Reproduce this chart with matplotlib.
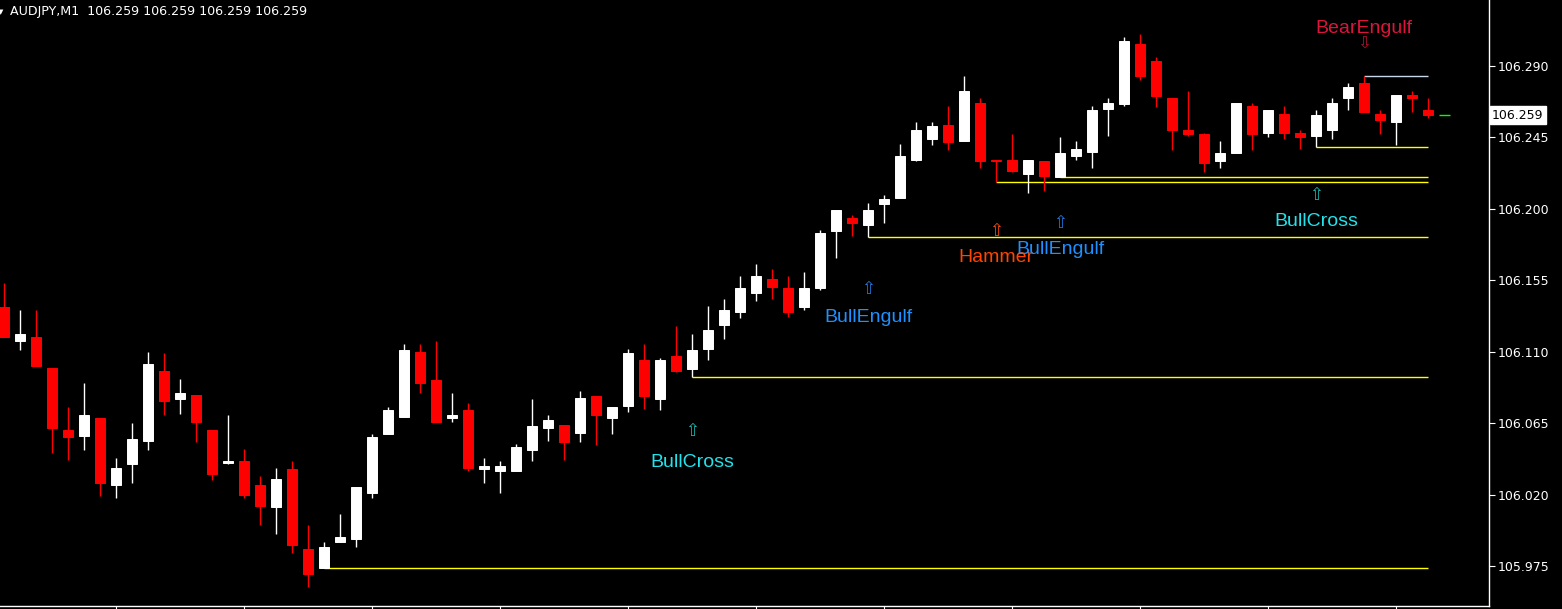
import matplotlib
matplotlib.use('Agg')
import matplotlib.pyplot as plt
import matplotlib.transforms as mtransforms

# ---------------- data (AUDJPY, M1) ----------------
opens = [106.138, 106.117, 106.119, 106.100, 106.061, 106.057, 106.068, 106.026, 106.039, 106.054,
         106.098, 106.080, 106.083, 106.061, 106.040, 106.041, 106.026, 106.012, 106.036, 105.986,
         105.974, 105.990, 105.992, 106.021, 106.058, 106.069, 106.110, 106.092, 106.068, 106.073,
         106.036, 106.035, 106.035, 106.048, 106.062, 106.064, 106.059, 106.082, 106.068, 106.076,
         106.105, 106.080, 106.107, 106.099, 106.112, 106.127, 106.135, 106.147, 106.156, 106.150,
         106.138, 106.150, 106.186, 106.194, 106.190, 106.203, 106.207, 106.231, 106.244, 106.253,
         106.243, 106.267, 106.231, 106.231, 106.222, 106.230, 106.220, 106.233, 106.236, 106.263,
         106.266, 106.304, 106.293, 106.270, 106.250, 106.247, 106.230, 106.235, 106.265, 106.248,
         106.260, 106.248, 106.246, 106.250, 106.270, 106.279, 106.260, 106.255, 106.272, 106.262]
highs = [106.153, 106.136, 106.136, 106.100, 106.075, 106.090, 106.068, 106.043, 106.065, 106.110,
         106.109, 106.093, 106.083, 106.061, 106.070, 106.049, 106.032, 106.037, 106.041, 106.001,
         105.990, 106.008, 106.025, 106.058, 106.075, 106.115, 106.115, 106.117, 106.084, 106.078,
         106.043, 106.041, 106.052, 106.080, 106.070, 106.064, 106.085, 106.082, 106.075, 106.112,
         106.115, 106.106, 106.126, 106.121, 106.139, 106.143, 106.158, 106.165, 106.162, 106.158,
         106.160, 106.187, 106.199, 106.196, 106.204, 106.209, 106.241, 106.255, 106.255, 106.265,
         106.284, 106.270, 106.231, 106.247, 106.231, 106.230, 106.245, 106.243, 106.265, 106.270,
         106.308, 106.310, 106.296, 106.270, 106.274, 106.248, 106.243, 106.267, 106.267, 106.262,
         106.265, 106.250, 106.262, 106.270, 106.279, 106.284, 106.262, 106.272, 106.274, 106.270]
lows = [106.119, 106.111, 106.101, 106.046, 106.042, 106.048, 106.019, 106.018, 106.027, 106.048,
        106.070, 106.071, 106.053, 106.029, 106.039, 106.018, 106.001, 105.995, 105.983, 105.962,
        105.974, 105.990, 105.987, 106.018, 106.058, 106.069, 106.084, 106.066, 106.066, 106.035,
        106.027, 106.021, 106.035, 106.041, 106.054, 106.042, 106.053, 106.051, 106.058, 106.072,
        106.074, 106.073, 106.097, 106.094, 106.105, 106.118, 106.131, 106.142, 106.143, 106.132,
        106.136, 106.149, 106.169, 106.183, 106.182, 106.191, 106.207, 106.230, 106.240, 106.237,
        106.243, 106.226, 106.217, 106.223, 106.210, 106.211, 106.220, 106.231, 106.226, 106.246,
        106.265, 106.281, 106.264, 106.237, 106.246, 106.223, 106.226, 106.235, 106.237, 106.245,
        106.244, 106.238, 106.239, 106.244, 106.262, 106.261, 106.247, 106.240, 106.261, 106.257]
closes = [106.119, 106.121, 106.101, 106.062, 106.056, 106.070, 106.027, 106.037, 106.055, 106.102,
          106.079, 106.084, 106.066, 106.033, 106.041, 106.020, 106.013, 106.030, 105.988, 105.970,
          105.987, 105.993, 106.025, 106.056, 106.073, 106.111, 106.090, 106.066, 106.070, 106.037,
          106.038, 106.038, 106.050, 106.063, 106.067, 106.053, 106.081, 106.070, 106.075, 106.109,
          106.082, 106.105, 106.098, 106.111, 106.124, 106.136, 106.150, 106.158, 106.151, 106.135,
          106.150, 106.185, 106.199, 106.191, 106.199, 106.206, 106.233, 106.250, 106.252, 106.242,
          106.274, 106.230, 106.230, 106.224, 106.231, 106.221, 106.235, 106.238, 106.262, 106.267,
          106.306, 106.284, 106.271, 106.250, 106.247, 106.229, 106.235, 106.267, 106.247, 106.262,
          106.248, 106.245, 106.259, 106.267, 106.277, 106.261, 106.256, 106.272, 106.270, 106.259]

symbol_title = "AUDJPY,M1  106.259 106.259 106.259 106.259"
current_price = 106.259
price_ticks = [105.975, 106.020, 106.065, 106.110, 106.155, 106.200, 106.245, 106.290]
time_tick_idx = [7, 15, 23, 31, 39, 47, 55, 63, 71, 79, 87]

# support lines (start candle -> price), resistance line
support_start = [20, 43, 54, 62, 66, 82]
support_level = [105.974, 106.094, 106.182, 106.217, 106.220, 106.239]
resist_start = [85]
resist_level = [106.284]
line_end = 89

# pattern signals
pat_names = ['BullCross', 'BullEngulf', 'Hammer', 'BullEngulf', 'BullCross', 'BearEngulf']
pat_idx = [43, 54, 62, 66, 82, 85]
pat_text_y = [106.0374, 106.1289, 106.1665, 106.1716, 106.1892, 106.3106]
pat_arrow_y = [106.0600, 106.1495, 106.1860, 106.1908, 106.2087, 106.3048]
pat_arrow = ['\u21e7', '\u21e7', '\u21e7', '\u21e7', '\u21e7', '\u21e9']
pat_color = ['#22e2ec', '#1e90ff', '#ff4500', '#1e90ff', '#22e2ec', '#dc143c']
pat_arrow_color = ['#18b8b0', '#1e78e0', '#ff4500', '#1e78e0', '#18b8b0', '#b01030']
pat_z = [6, 6, 5, 7, 6, 6]

# ---------------- figure ----------------
W, H = 1562, 609
fig = plt.figure(figsize=(W / 100, H / 100), dpi=100, facecolor='black')
ax = fig.add_axes([0, 3 / H, 1489 / W, 606 / H])
ax.set_facecolor('black')

n = len(opens)
xs = list(range(n))
for i in xs:
    o, h, l, c = opens[i], highs[i], lows[i], closes[i]
    col = '#ffffff' if c >= o else '#ff0000'
    ax.vlines(i, l, h, color=col, linewidth=1.0, zorder=2)
    ax.bar(i, max(abs(c - o), 0.0004), bottom=min(o, c), width=0.62,
           color=col, edgecolor=col, linewidth=0.7, zorder=3)

for s, lv in zip(support_start, support_level):
    ax.hlines(lv, s, line_end, color='#ffff00', linewidth=1.0, zorder=1)
for s, lv in zip(resist_start, resist_level):
    ax.hlines(lv, s, line_end, color='#c8d8e8', linewidth=1.0, zorder=1)

# current price marker
ax.hlines(current_price, n - 0.3, n + 0.4, color='#00ff00', linewidth=1.0)

for name, i, ty, ay, ar, c, ac, z in zip(pat_names, pat_idx, pat_text_y, pat_arrow_y,
                                          pat_arrow, pat_color, pat_arrow_color, pat_z):
    ax.text(i, ty, name, color=c, fontsize=14, family='Liberation Sans',
            ha='center', va='baseline', zorder=z)
    ax.text(i, ay, ar, color=ac, fontsize=12, family='DejaVu Sans',
            ha='center', va='center', zorder=z)

ax.set_xlim(-0.25, 92.81)
ax.set_ylim(105.9498, 106.3316)

for sp in ['left', 'top']:
    ax.spines[sp].set_visible(False)
for sp in ['right', 'bottom']:
    ax.spines[sp].set_color('white')
    ax.spines[sp].set_linewidth(1.0)

ax.yaxis.tick_right()
ax.set_yticks(price_ticks)
ax.set_yticklabels(['%.3f' % p for p in price_ticks])
ax.tick_params(axis='y', colors='white', labelcolor='white', length=4, width=0.8,
               pad=2, labelsize=9)
ax.set_xticks(time_tick_idx)
ax.set_xticklabels([])
ax.tick_params(axis='x', colors='white', length=5, width=0.8, direction='out')

# current price label box
tr = mtransforms.blended_transform_factory(ax.transAxes, ax.transData)
ax.text(1.0 + 3 / 1489, current_price, '%.3f' % current_price, transform=tr,
        ha='left', va='center', fontsize=9, color='black', zorder=10, clip_on=False,
        bbox=dict(facecolor='white', edgecolor='white', boxstyle='square,pad=0.2'))

# title
fig.text(10 / W, 1 - 12 / H, symbol_title, color='white', fontsize=9.1,
         family='DejaVu Sans', ha='left', va='center')
fig.text(1 / W, 1 - 12 / H, '\u25bc', color='white', fontsize=5, ha='center', va='center')

fig.savefig('out.png', dpi=100, facecolor='black')
